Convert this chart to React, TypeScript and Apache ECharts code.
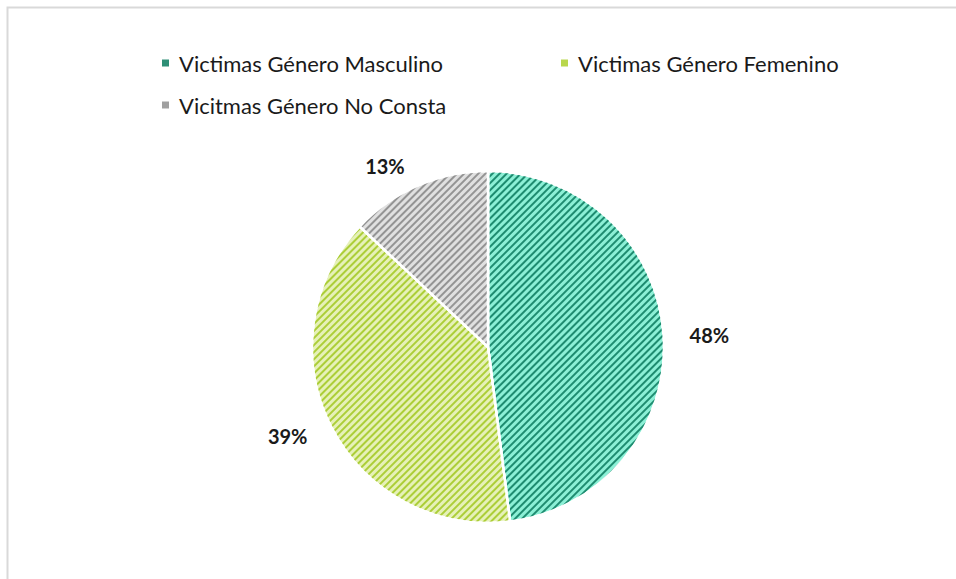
import React, { useEffect, useRef } from "react";
import * as echarts from "echarts";

const categories = [
  "Victimas Género Masculino",
  "Victimas Género Femenino",
  "Vicitmas Género No Consta",
];
const values = [48, 39, 13];
const fillColors = ["#8cf0d6", "#e6f1b8", "#e0e0e0"];
const stripeColors = ["#1e8c70", "#acce38", "#949494"];
const legendColors = ["#2e8f76", "#b9d74c", "#a0a0a0"];

export default function App() {
  const ref = useRef<HTMLDivElement>(null);
  useEffect(() => {
    if (!ref.current) return;
    const chart = echarts.init(ref.current, null, { renderer: "svg" });
    const legendCommon = {
      orient: "horizontal" as const,
      icon: "rect",
      itemWidth: 9,
      itemHeight: 9,
      itemGap: 10,
      padding: 0,
      textStyle: {
        fontFamily: "Lato",
        fontSize: 22,
        color: "#1a1a1a",
        padding: [0, 0, 0, 4],
      },
    };
    const legendPos = [
      { left: 160, top: 52 },
      { left: 559, top: 52 },
      { left: 160, top: 94 },
    ];
    chart.setOption({
      animation: false,
      backgroundColor: "#ffffff",
      graphic: [
        {
          type: "rect",
          shape: { x: 7.5, y: 7.5, width: 1200, height: 1200 },
          style: { fill: "none", stroke: "#d9d9d9", lineWidth: 2 },
          silent: true,
        },
      ],
      legend: categories.map((c, i) => ({
        ...legendCommon,
        ...legendPos[i],
        data: [{ name: c, itemStyle: { color: legendColors[i], decal: "none" } }],
      })),
      series: [
        {
          type: "pie",
          center: [488, 347],
          radius: 176,
          startAngle: 90,
          clockwise: true,
          label: {
            show: true,
            position: "outside",
            formatter: "{d}%",
            fontFamily: "Lato",
            fontWeight: "bold",
            fontSize: 20,
            color: "#1a1a1a",
          },
          labelLine: { show: false, length: 21, length2: 0 },
          itemStyle: { borderColor: "#ffffff", borderWidth: 2.5 },
          emphasis: { disabled: true },
          data: categories.map((c, i) => ({
            name: c,
            value: values[i],
            itemStyle: {
              color: fillColors[i],
              decal: {
                symbol: "rect",
                symbolSize: 1,
                dashArrayX: [1, 0],
                dashArrayY: [1.8, 2.8],
                rotation: -Math.PI / 4,
                color: stripeColors[i],
              },
            },
          })),
        },
      ],
    });
    return () => chart.dispose();
  }, []);
  return (
    <div
      ref={ref}
      style={{ position: "fixed", left: 0, top: 0, width: 956, height: 579 }}
    />
  );
}
